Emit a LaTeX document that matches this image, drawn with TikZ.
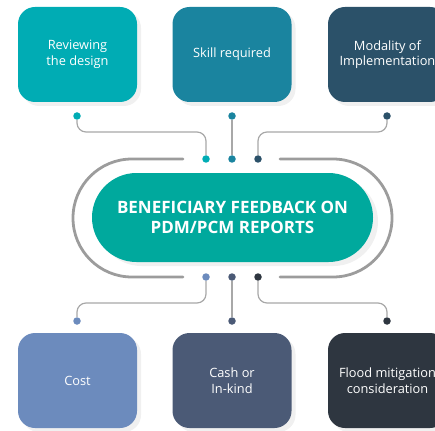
\documentclass[tikz,border=0pt]{standalone}
\usepackage{fontspec}
\setmainfont{Open Sans}
\usetikzlibrary{shadows}

\definecolor{reviewcol}{HTML}{00ACB4}
\definecolor{skillcol}{HTML}{1A849F}
\definecolor{modalcol}{HTML}{2B5169}
\definecolor{costcol}{HTML}{6C8BBD}
\definecolor{cashcol}{HTML}{4B5A76}
\definecolor{floodcol}{HTML}{2E3640}
\definecolor{pillcol}{HTML}{00A99D}
\definecolor{wiregray}{HTML}{A8A8A8}
\definecolor{trackgray}{HTML}{9C9C9C}

\tikzset{
  card/.style={rectangle, rounded corners=17pt, minimum width=119pt, minimum height=95pt,
    text=white, align=center, font=\fontsize{12.8}{15.5}\selectfont,
    drop shadow={opacity=0.12, shadow xshift=4pt, shadow yshift=-4pt}},
  dot/.style={circle, inner sep=0pt, minimum size=7.5pt},
  wire/.style={draw=wiregray, line width=1.2pt, rounded corners=9pt},
  track/.style={draw=trackgray, line width=2.8pt, line cap=round, rounded corners=58.9pt}
}

\begin{document}
\begin{tikzpicture}[x=1pt,y=-1pt]
            \useasboundingbox (0,0) rectangle (435,430);
            \coordinate (hup) at (0,132);
            \coordinate (hdown) at (0,303);
            % top cards
            \node[card, fill=reviewcol] (review) at (77.5,54.5) {Reviewing\\the design};
            \node[card, fill=skillcol] (skill) at (232,54.5) {Skill required};
            \node[card, fill=modalcol] (modal) at (387.5,54.5) {Modality of\\Implementation};
            % bottom cards
            \node[card, fill=costcol] (cost) at (77.5,380.5) {Cost};
            \node[card, fill=cashcol] (cash) at (232,380.5) {Cash or\\In-kind};
            \node[card, fill=floodcol] (flood) at (387.5,380.5) {Flood mitigation\\consideration};
            % ring round the title
            \draw[track] (183,159) -- (73,159) -- (73,277) -- (183,277);
            \draw[track] (280,159) -- (392,159) -- (392,277) -- (280,277);
            \node[rectangle, rounded corners=44.5pt, minimum width=281pt, minimum height=89pt,
              fill=pillcol, text=white, align=center,
              font=\bfseries\fontsize{17}{19.5}\selectfont,
              drop shadow={opacity=0.12, shadow xshift=5pt, shadow yshift=-4pt}]
              (title) at (232.5,217.5) {BENEFICIARY FEEDBACK ON\\PDM/PCM REPORTS};
            % dots
            \node[dot, fill=reviewcol] (t1) at (77,116) {};
            \node[dot, fill=skillcol] (t2) at (232,116) {};
            \node[dot, fill=modalcol] (t3) at (387,116) {};
            \node[dot, fill=reviewcol] (m1) at (206,159) {};
            \node[dot, fill=skillcol] (m2) at (232,159) {};
            \node[dot, fill=modalcol] (m3) at (258,159) {};
            \node[dot, fill=costcol] (n1) at (206,277) {};
            \node[dot, fill=cashcol] (n2) at (232,277) {};
            \node[dot, fill=floodcol] (n3) at (258,277) {};
            \node[dot, fill=costcol] (b1) at (77,321) {};
            \node[dot, fill=cashcol] (b2) at (232,321) {};
            \node[dot, fill=floodcol] (b3) at (387,321) {};
            % wires
            \draw[wire] (t1) |- (m1 |- hup) -- (m1);
            \draw[wire] (t2) -- (m2);
            \draw[wire] (t3) |- (m3 |- hup) -- (m3);
            \draw[wire] (n1) |- (b1 |- hdown) -- (b1);
            \draw[wire] (n2) -- (b2);
            \draw[wire] (n3) |- (b3 |- hdown) -- (b3);
\end{tikzpicture}
\end{document}
